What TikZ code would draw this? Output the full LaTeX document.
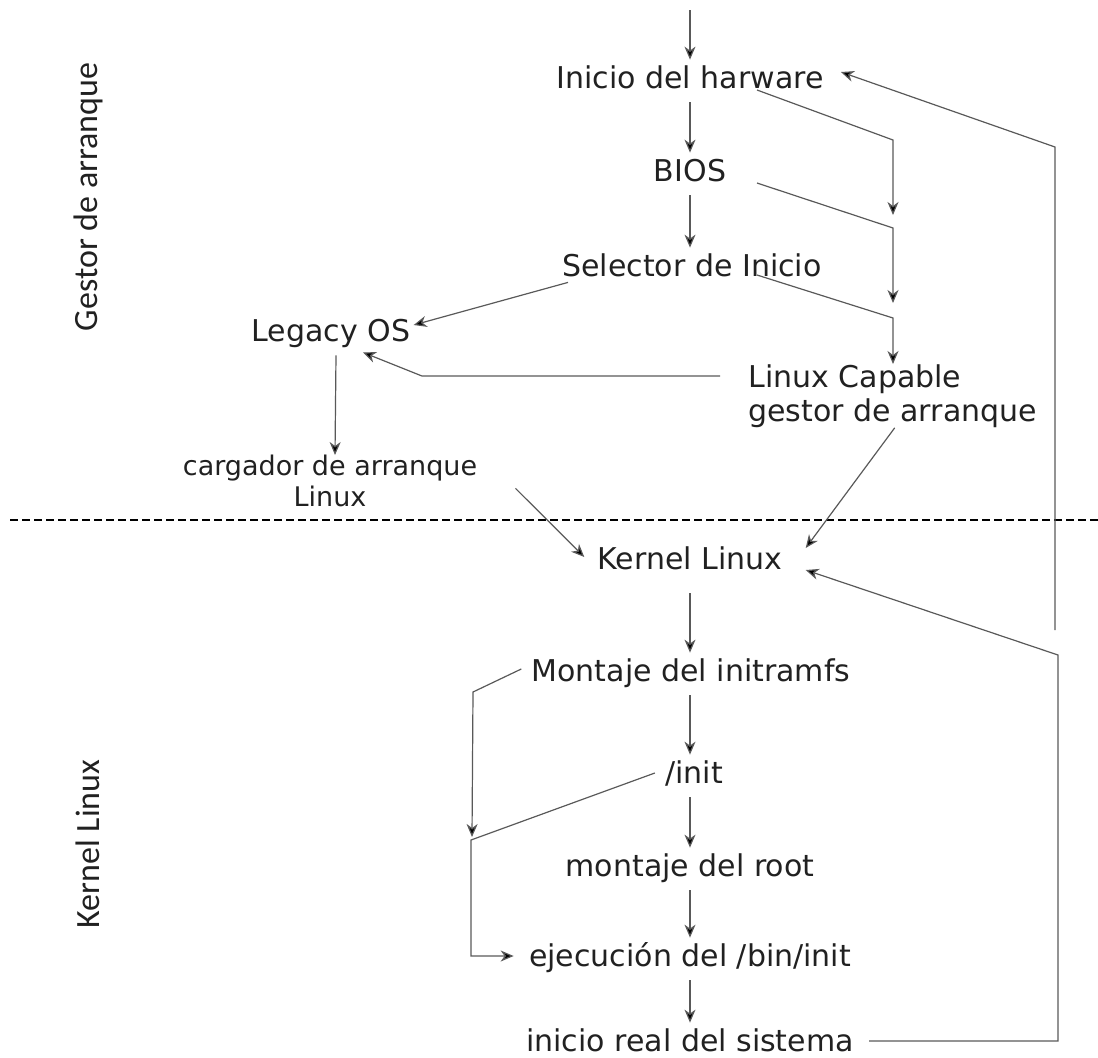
\documentclass[tikz,border=0pt]{standalone}
\usepackage{fontspec}
\setmainfont{DejaVu Sans}
\newfontfamily\sidefont{Carlito}
\usetikzlibrary{calc,positioning,arrows.meta}
\definecolor{linegray}{rgb}{0.35,0.35,0.35}
\definecolor{textgray}{rgb}{0.13,0.13,0.13}
\tikzset{
  every node/.style={text=textgray, font=\fontsize{15}{17}\selectfont},
  stage/.style={inner xsep=0pt, inner ysep=3pt, text height=11pt, text depth=4pt},
  twoline/.style={inner sep=0pt},
  side/.style={rotate=90, font=\sidefont\fontsize{17}{20}\selectfont},
  arr/.style={draw=linegray, line width=0.6pt, -{Stealth[length=6.5pt,width=5.5pt,inset=2pt,fill=black]}},
}
\begin{document}
\begin{tikzpicture}[x=0.5pt, y=-0.5pt]
        \useasboundingbox (0,0) rectangle (1098,1057);
        % boot stages
        \coordinate (top) at (690,10);
        \node[stage] (hw)    at (690,81)  {Inicio del harware};
        \node[stage] (bios)  at (690,174) {BIOS};
        \node[stage] (sel)   at (692,269) {Selector de Inicio};
        \node[stage] (leg)   at (331,334) {Legacy OS};
        \node[twoline, align=left, anchor=north west] (lcap) at (748,364)
          {Linux Capable\\gestor de arranque};
        \node[twoline, align=center, anchor=north, font=\fontsize{13.5}{15.5}\selectfont]
          (carg) at (330,455) {cargador de arranque\\Linux};
        \node[stage] (kl)    at (690,562) {Kernel Linux};
        \node[stage] (mi)    at (691,674) {Montaje del initramfs};
        \node[stage] (init)  at (694,776) {/init};
        \node[stage] (mroot) at (690,869) {montaje del root};
        \node[stage] (ejec)  at (690,959) {ejecución del /bin/init};
        \node[stage] (ireal) at (690,1044) {inicio real del sistema};
        \node[side] (gest) at (88,197) {Gestor de arranque};
        \node[side] (kern) at (88,844) {Kernel Linux};
        \draw[dashed, dash pattern=on 4pt off 2pt, line width=0.9pt] (10,520) -- (1098,520);
        % bend points
        \coordinate (r1) at (893,140);
        \coordinate (r1e) at (893,215);
        \coordinate (r2) at (893,228);
        \coordinate (r2e) at (893,303);
        \coordinate (r3) at (893,318);
        \coordinate (l1) at (422,376);
        \coordinate (b1) at (1058,1041);
        \coordinate (b2) at (1058,655);
        \coordinate (free) at (1055,630);
        \coordinate (t1) at (1055,147);
        \coordinate (m1) at (473,692);
        \coordinate (m1e) at (472,837);
        \coordinate (i1) at (471,840);
        \coordinate (i2) at (471,956);
        % main chain
        \draw[arr] (top) -- (hw.north);
        \draw[arr] (hw.south) -- (bios.north);
        \draw[arr] (bios.south) -- (sel.north -| bios);
        \draw[arr, shorten <=5pt] (kl.south) -- (mi.north -| kl);
        \draw[arr] (mi.south -| kl) -- (init.north -| kl);
        \draw[arr] (init.south -| kl) -- (mroot.north);
        \draw[arr] (mroot.south) -- (ejec.north);
        \draw[arr] (ejec.south) -- (ireal.north);
        % right side
        \draw[arr] ($(hw)+(67,9)$) -- (r1) -- (r1e);
        \draw[arr] ($(bios)+(67,9)$) -- (r2) -- (r2e);
        \draw[arr] ($(sel)+(65,6)$) -- (r3) -- (r3 |- lcap.north);
        \draw[arr] ($(sel.south west)+(6,-8)$) -- ($(leg.east)+(3,-9)$);
        \draw[arr] ($(lcap.west)+(-28,-20)$) -- (l1) -- ($(leg.south)+(32,-3)$);
        \draw[arr] ([xshift=2.5pt]leg.south) -- ([xshift=2.5pt]carg.north);
        \draw[arr] ($(carg.east)+(38,7)$) -- ($(kl.west)+(-13,-5)$);
        \draw[arr] ([xshift=1pt]lcap.south) -- ($(kl.east)+(23,-14)$);
        \draw[arr] ($(ireal.east)+(15,-3)$) -- (b1) -- (b2) -- ($(kl.east)+(23,8)$);
        \draw[arr] (free) -- (t1) -- ($(hw.east)+(17,-9)$);
        % left loop
        \draw[arr] ($(mi.west)+(-10,-5)$) -- (m1) -- (m1e);
        \draw[arr] ($(init.west)+(-10,-3)$) -- (i1) -- (i2) -- ($(ejec.west)+(-15,-3)$);
\end{tikzpicture}
\end{document}
